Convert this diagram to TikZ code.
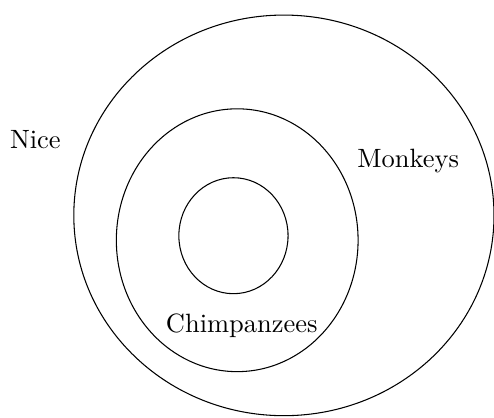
\documentclass[tikz,border=0pt]{standalone}
\usepackage{tikz}
\usetikzlibrary{shapes.geometric}

\begin{document}
\begin{tikzpicture}[
  set/.style = {ellipse, draw=black, inner sep=0pt},
  setlabel/.style = {font=\normalsize, inner sep=0pt}
]
\useasboundingbox (0,0) rectangle (6.56,-5.54);

\node[set, minimum width=5.58cm, minimum height=5.32cm] (nice)    at (3.77,-2.86)  {};
\node[set, minimum width=3.21cm, minimum height=3.49cm] (monkeys) at (3.15,-3.19)  {};
\node[set, minimum width=1.45cm, minimum height=1.54cm] (chimps)  at (3.10,-3.13)  {};

\node[setlabel] (nicelabel)    at (0.47,-1.86) {Nice};
\node[setlabel] (monkeyslabel) at (5.42,-2.14) {Monkeys};
\node[setlabel] (chimpslabel)  at (3.21,-4.32) {Chimpanzees};

\end{tikzpicture}
\end{document}
